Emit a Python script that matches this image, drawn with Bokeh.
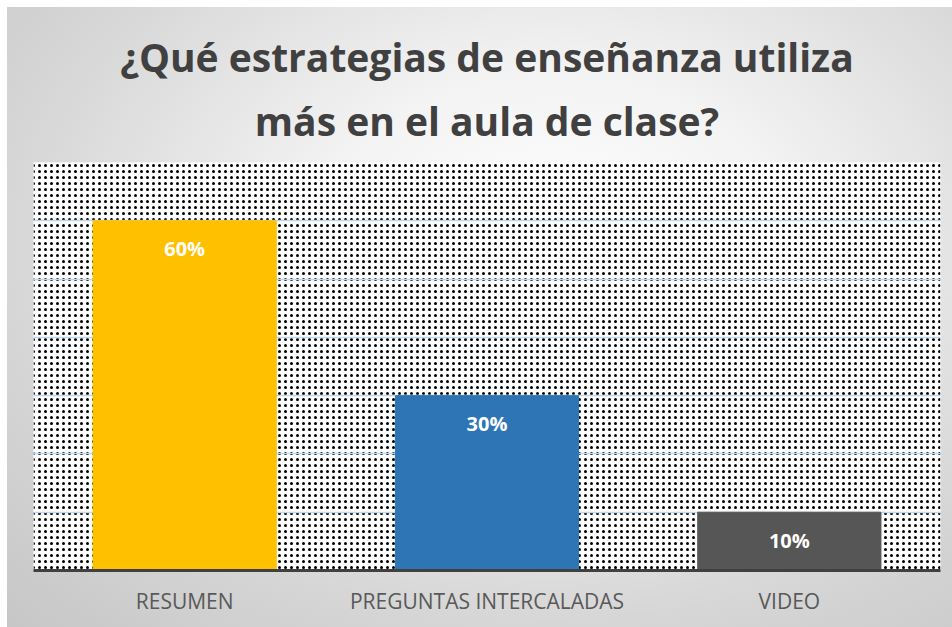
from bokeh.plotting import figure
from bokeh.models import ColumnDataSource, Title, BoxAnnotation, FactorRange
from bokeh.core.properties import value
from bokeh.embed import file_html
from bokeh.resources import INLINE

categories = ["RESUMEN", "PREGUNTAS INTERCALADAS", "VIDEO"]
values = [0.60, 0.30, 0.10]
labels = ["60%", "30%", "10%"]
colors = ["#FFC000", "#2E75B6", "#565656"]
title_lines = ["¿Qué estrategias de enseñanza utiliza", "más en el aula de clase?"]
grid_ticks = [0.0, 0.1, 0.2, 0.3, 0.4, 0.5, 0.6, 0.7]

src = ColumnDataSource(dict(cat=categories, val=values, lab=labels, col=colors))

bg = ("linear-gradient(#ffffff, #ffffff) top left / 100% 7px no-repeat, "
      "linear-gradient(#ffffff, #ffffff) top left / 7px 100% no-repeat, "
      "radial-gradient(ellipse at 58% 38%, #ffffff 0%, #f3f3f3 30%, #d6d6d6 70%, #c6c6c6 100%)")

p = figure(
    width=952, height=627,
    x_range=FactorRange(factors=categories),
    y_range=(0, 0.7),
    output_backend="svg", toolbar_location=None,
    y_axis_location=None,
    min_border_left=33, min_border_right=12,
    min_border_top=162, min_border_bottom=57,
    border_fill_color=None, background_fill_color="white",
    outline_line_color=None,
    styles={"background": bg},
)

p.title.text = title_lines[0]
p.title.align = "center"
p.title.text_font = "Open Sans"
p.title.text_font_style = "bold"
p.title.text_font_size = "39px"
p.title.text_color = "#404040"
p.title.standoff = -15

p.add_layout(Title(text=title_lines[1], align="center", text_font="Open Sans",
                   text_font_style="bold", text_font_size="39px",
                   text_color="#404040", standoff=32), "above")

dots = BoxAnnotation(fill_color="white", fill_alpha=1.0,
                     hatch_pattern="dot", hatch_color="black",
                     hatch_scale=6, hatch_weight=0.2, line_color=None,
                     level="image")
p.add_layout(dots)

p.vbar(x="cat", top="val", width=0.606, bottom=0, source=src,
       fill_color="col", line_color="col")

p.text(x="cat", y="val", text="lab", source=src, y_offset=28,
       text_align="center", text_baseline="middle",
       text_color="white", text_font=value("Open Sans"),
       text_font_style="bold", text_font_size="20px")

p.xgrid.visible = False
p.ygrid.ticker = grid_ticks
p.ygrid.grid_line_color = "#BDD7EE"
p.ygrid.grid_line_width = 1.5

ax = p.xaxis[0]
ax.axis_line_color = "#404040"
ax.axis_line_width = 3
ax.major_tick_line_color = None
ax.minor_tick_line_color = None
ax.major_label_standoff = 10
ax.major_label_text_font = "Open Sans"
ax.major_label_text_font_size = "21px"
ax.major_label_text_color = "#595959"

open("out.html", "w").write(file_html(p, INLINE))
